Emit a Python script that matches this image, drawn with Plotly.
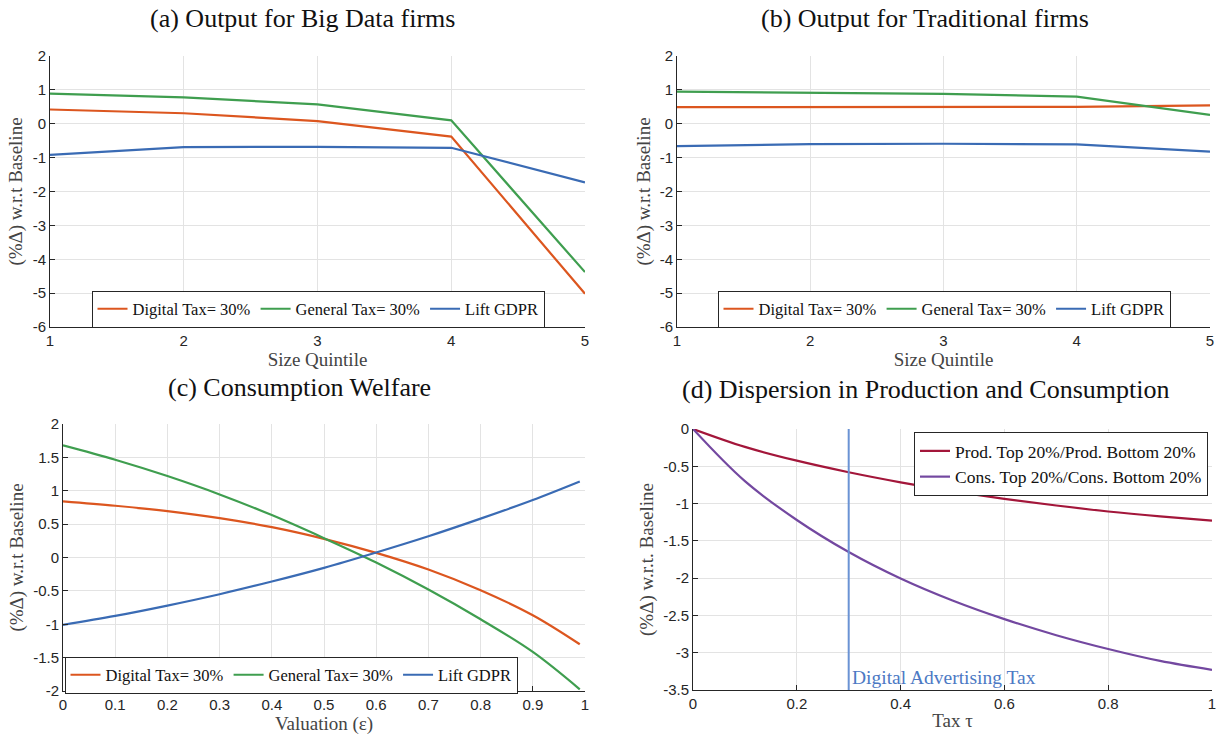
import plotly.graph_objects as go

# ---- data ----
quintiles = [1, 2, 3, 4, 5]

bigdata_digital = [0.42, 0.31, 0.08, -0.38, -5.02]
bigdata_general = [0.89, 0.78, 0.57, 0.10, -4.38]
bigdata_gdpr = [-0.92, -0.69, -0.68, -0.71, -1.73]

trad_digital = [0.49, 0.49, 0.49, 0.50, 0.54]
trad_general = [0.95, 0.92, 0.88, 0.80, 0.26]
trad_gdpr = [-0.66, -0.60, -0.59, -0.61, -0.82]

valuation = [0.0, 0.1, 0.2, 0.3, 0.4, 0.5, 0.6, 0.7, 0.8, 0.9, 0.99]
welfare_digital = [0.84, 0.775, 0.695, 0.59, 0.455, 0.28, 0.07, -0.18, -0.49, -0.865, -1.30]
welfare_general = [1.68, 1.465, 1.22, 0.945, 0.635, 0.29, -0.075, -0.48, -0.925, -1.415, -1.975]
welfare_gdpr = [-1.01, -0.875, -0.72, -0.55, -0.36, -0.155, 0.075, 0.318, 0.582, 0.862, 1.14]

tax = [0.0, 0.1, 0.2, 0.3, 0.4, 0.5, 0.6, 0.7, 0.8, 0.9, 1.0]
prod_ratio = [0.0, -0.24, -0.425, -0.58, -0.715, -0.833, -0.936, -1.026, -1.106, -1.172, -1.229]
cons_ratio = [0.0, -0.70, -1.22, -1.65, -2.005, -2.30, -2.55, -2.765, -2.95, -3.11, -3.23]

digital_ad_tax = 0.3

# ---- style ----
C_DIG = "#DC561F"
C_GEN = "#3F9E4F"
C_GDPR = "#3A6BB4"
C_PROD = "#A3163A"
C_CONS = "#7348A0"
C_VLINE = "#6A93D4"
SERIF = "Liberation Serif"
SANS = "Liberation Sans"
W, H = 1220, 738


def px_x(a, b):
    return [a / W, b / W]


def px_y(top, bottom):
    return [1 - bottom / H, 1 - top / H]


fig = go.Figure()

panels = [
    ("x", "y", quintiles, [(bigdata_digital, "Digital Tax= 30%", C_DIG),
                            (bigdata_general, "General Tax= 30%", C_GEN),
                            (bigdata_gdpr, "Lift GDPR", C_GDPR)], "legend", "linear"),
    ("x2", "y2", quintiles, [(trad_digital, "Digital Tax= 30%", C_DIG),
                              (trad_general, "General Tax= 30%", C_GEN),
                              (trad_gdpr, "Lift GDPR", C_GDPR)], "legend2", "linear"),
    ("x3", "y3", valuation, [(welfare_digital, "Digital Tax= 30%", C_DIG),
                              (welfare_general, "General Tax= 30%", C_GEN),
                              (welfare_gdpr, "Lift GDPR", C_GDPR)], "legend3", "spline"),
    ("x4", "y4", tax, [(prod_ratio, "Prod. Top 20%/Prod. Bottom 20%", C_PROD),
                        (cons_ratio, "Cons. Top 20%/Cons. Bottom 20%", C_CONS)], "legend4", "spline"),
]

for xa, ya, xs, series, leg, shape in panels:
    for ys, name, col in series:
        fig.add_trace(go.Scatter(
            x=xs, y=ys, name=name, mode="lines",
            line=dict(color=col, width=2.2, shape=shape),
            xaxis=xa, yaxis=ya, legend=leg,
        ))

# vertical marker for the digital advertising tax rate
fig.add_trace(go.Scatter(
    x=[digital_ad_tax, digital_ad_tax], y=[0, -3.5], mode="lines",
    line=dict(color=C_VLINE, width=2), xaxis="x4", yaxis="y4",
    showlegend=False, hoverinfo="skip",
))
fig.add_annotation(
    x=digital_ad_tax, y=-3.33, xref="x4", yref="y4", text="Digital Advertising Tax",
    showarrow=False, xanchor="left", xshift=1, yanchor="middle",
    font=dict(family=SERIF, size=19.5, color="#4C79C4"),
)

tick_font = dict(family=SANS, size=15, color="#262626")
title_font = dict(family=SERIF, size=19, color="#444444")


def axis_common():
    return dict(
        showline=True, linecolor="#262626", linewidth=1,
        ticks="inside", ticklen=5, tickcolor="#262626",
        showgrid=True, gridcolor="#E3E3E3", gridwidth=1,
        zeroline=False, tickfont=tick_font, automargin=False,
    )


def fmt(v):
    return "%g" % v


q_ticks = [1, 2, 3, 4, 5]
out_yticks = [-6, -5, -4, -3, -2, -1, 0, 1, 2]
val_xticks = [0, 0.1, 0.2, 0.3, 0.4, 0.5, 0.6, 0.7, 0.8, 0.9, 1]
val_yticks = [-2, -1.5, -1, -0.5, 0, 0.5, 1, 1.5, 2]
tax_xticks = [0, 0.2, 0.4, 0.6, 0.8, 1]
tax_yticks = [-3.5, -3, -2.5, -2, -1.5, -1, -0.5, 0]

ylab = "(%\u0394) w.r.t Baseline"

fig.update_layout(
    width=W, height=H, margin=dict(l=0, r=0, t=0, b=0),
    plot_bgcolor="white", paper_bgcolor="white",
    xaxis=dict(domain=px_x(50, 585), range=[1, 5], tickvals=q_ticks, ticktext=[fmt(v) for v in q_ticks],
               title=dict(text="Size Quintile", font=title_font, standoff=0), anchor="y", **axis_common()),
    yaxis=dict(domain=px_y(56, 327), range=[-6, 2], tickvals=out_yticks, ticktext=[fmt(v) for v in out_yticks],
               title=dict(text=ylab, font=title_font, standoff=5), anchor="x", **axis_common()),
    xaxis2=dict(domain=px_x(677, 1210), range=[1, 5], tickvals=q_ticks, ticktext=[fmt(v) for v in q_ticks],
                title=dict(text="Size Quintile", font=title_font, standoff=0), anchor="y2", **axis_common()),
    yaxis2=dict(domain=px_y(56, 327), range=[-6, 2], tickvals=out_yticks, ticktext=[fmt(v) for v in out_yticks],
                title=dict(text=ylab, font=title_font, standoff=4), anchor="x2", **axis_common()),
    xaxis3=dict(domain=px_x(63, 585), range=[0, 1], tickvals=val_xticks, ticktext=[fmt(v) for v in val_xticks],
                title=dict(text="Valuation (\u03b5)", font=title_font, standoff=2), anchor="y3", **axis_common()),
    yaxis3=dict(domain=px_y(424, 691), range=[-2, 2], tickvals=val_yticks, ticktext=[fmt(v) for v in val_yticks],
                title=dict(text=ylab, font=title_font, standoff=4), anchor="x3", **axis_common()),
    xaxis4=dict(domain=px_x(693, 1212), range=[0, 1], tickvals=tax_xticks, ticktext=[fmt(v) for v in tax_xticks],
                title=dict(text="Tax \u03c4", font=title_font, standoff=2), anchor="y4", **axis_common()),
    yaxis4=dict(domain=px_y(429, 690), range=[-3.5, 0], tickvals=tax_yticks, ticktext=[fmt(v) for v in tax_yticks],
                title=dict(text="(%\u0394) w.r.t. Baseline", font=title_font, standoff=4), anchor="x4", **axis_common()),
)

legend_common = dict(
    bgcolor="white", bordercolor="#262626", borderwidth=1,
    itemwidth=30, tracegroupgap=0,
)
leg_font = dict(family=SERIF, size=16.5, color="#111111")
fig.update_layout(
    legend=dict(x=318 / W, y=1 - 309 / H, xanchor="center", yanchor="middle", orientation="h",
                font=leg_font, **legend_common),
    legend2=dict(x=944 / W, y=1 - 309 / H, xanchor="center", yanchor="middle", orientation="h",
                 font=leg_font, **legend_common),
    legend3=dict(x=291 / W, y=1 - 675 / H, xanchor="center", yanchor="middle", orientation="h",
                 font=leg_font, **legend_common),
    legend4=dict(x=1208 / W, y=1 - 432 / H, xanchor="right", yanchor="top", orientation="v",
                 font=dict(family=SERIF, size=17.5, color="#111111"), **legend_common),
)

# panel titles
titles = [
    ("(a) Output for Big Data firms", 302, 19),
    ("(b) Output for Traditional firms", 925, 19),
    ("(c) Consumption Welfare", 299, 387),
    ("(d) Dispersion in Production and Consumption", 925, 389),
]
for text, cx, cy in titles:
    fig.add_annotation(
        x=cx / W, y=1 - cy / H, xref="paper", yref="paper", text=text,
        showarrow=False, xanchor="center", yanchor="middle",
        font=dict(family=SERIF, size=26, color="#111111"),
    )

fig.write_html("out.html")
